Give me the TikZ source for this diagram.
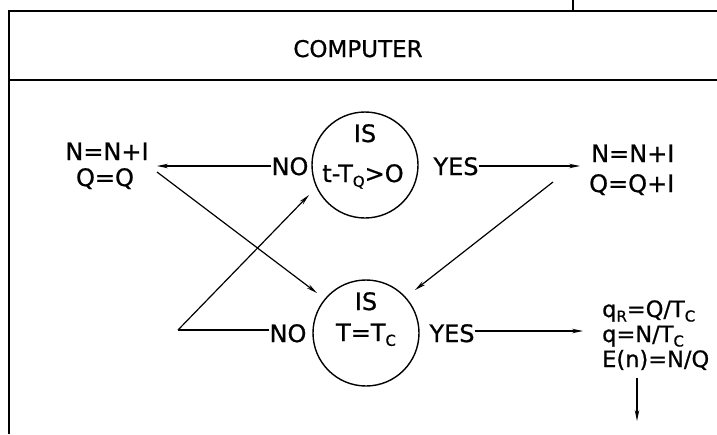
\documentclass[tikz,border=0pt]{standalone}
\usepackage{fontspec}
\setmainfont{DejaVu Sans}[FakeBold=0.8]
\usetikzlibrary{arrows.meta}
\newcommand{\lsub}[1]{\raisebox{-0.2em}{\fontsize{15}{15}\selectfont #1}}
\begin{document}
\begin{tikzpicture}[x=1pt,y=-1pt,
  lbl/.style={inner sep=0pt, anchor=base, font=\fontsize{24}{26}\selectfont},
  sml/.style={inner sep=0pt, anchor=base west, font=\fontsize{22.5}{24}\selectfont},
  dec/.style={circle, draw, line width=1.4pt, minimum size=106pt, inner sep=0pt},
  conn/.style={line width=1.2pt},
  arr/.style={conn, -{Stealth[length=11pt,width=4.5pt]}},
  frame/.style={line width=2.2pt}]
\useasboundingbox (0,0) rectangle (717,434);
% frame
\draw[frame] (9,434) -- (9,11) -- (717,11);
\draw[frame] (9,80) -- (717,80);
\draw[frame] (573,0) -- (573,11);
\node[lbl, font=\fontsize{23}{25}\selectfont] (title) at (358,57) {COMPUTER};
% decisions
\node[dec] (c1) at (365,165) {};
\node[lbl] (is1) at (365,142) {IS};
\node[lbl] (q1) at (363,182) {t-T\lsub{Q}>O};
\node[dec] (c2) at (366,333) {};
\node[lbl] (is2) at (366,310) {IS};
\node[lbl] (q2) at (366,341) {T=T\lsub{C}};
\node[lbl] (no1) at (290,175) {NO};
\node[lbl] (yes1) at (456,175) {YES};
\node[lbl] (no2) at (288,342) {NO};
\node[lbl] (yes2) at (452,342) {YES};
% texts
\node[lbl] (lt1) at (107,160) {N=N+I};
\node[lbl] (lt2) at (105,186) {Q=Q};
\node[lbl, anchor=base west] (rt1) at (591,162) {N=N+I};
\node[lbl, anchor=base west] (rt2) at (589,192) {Q=Q+I};
\node[sml] (rb1) at (602,317) {q\lsub{R}=Q/T\lsub{C}};
\node[sml] (rb2) at (602,342) {q=N/T\lsub{C}};
\node[sml] (rb3) at (602,367) {E(n)=N/Q};
% coordinates
\coordinate (ltin) at (157,166);
\coordinate (ltout) at (157,172);
\coordinate (c2inA) at (317,293);
\coordinate (bl) at (178,330);
\coordinate (c1in) at (309,195);
\coordinate (rtin) at (580,166);
\coordinate (rtout) at (553,182);
\coordinate (c2inB) at (415,290);
\coordinate (rbin) at (583,331);
\coordinate (dstart) at (637,378);
\coordinate (dend) at (637,421);
% connectors
\draw[arr] (no1.west |- ltin) -- (ltin);
\draw[arr] (ltout) -- (c2inA);
\draw[conn] (no2.west |- bl) -- (bl);
\draw[arr] (bl) -- (c1in);
\draw[arr] (yes1.east |- rtin) -- (rtin);
\draw[arr] (rtout) -- (c2inB);
\draw[arr] (yes2.east |- rbin) -- (rbin);
\draw[arr] (dstart) -- (dend);
\end{tikzpicture}
\end{document}
